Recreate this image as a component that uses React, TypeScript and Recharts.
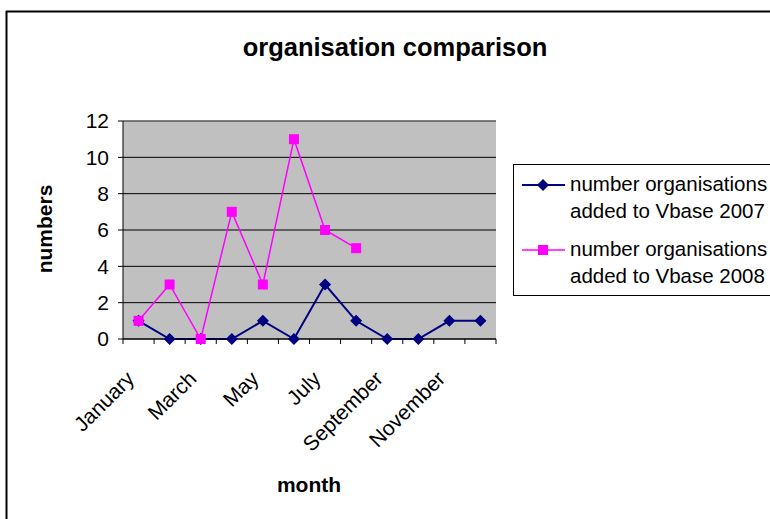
import { LineChart, Line, XAxis, YAxis, CartesianGrid, ReferenceLine } from 'recharts'

const months = ['January', 'February', 'March', 'April', 'May', 'June', 'July', 'August', 'September', 'October', 'November', 'December']
const added2007 = [1, 0, 0, 0, 1, 0, 3, 1, 0, 0, 1, 1]
const added2008 = [1, 3, 0, 7, 3, 11, 6, 5, null, null, null, null]
const yTicks = [0, 2, 4, 6, 8, 10, 12]

const data = months.map((month, i) => ({ month, y2007: added2007[i], y2008: added2008[i] }))

// plot box, Excel style
const PLOT_LEFT = 123
const PLOT_TOP = 121
const PLOT_RIGHT = 496
const PLOT_BOTTOM = 339
const FONT = '"Liberation Sans", Arial, sans-serif'

const NAVY = '#000080'
const PINK = '#FF00FF'

function XTick(props: any) {
  const { x, y, index, payload } = props
  const half = (PLOT_RIGHT - PLOT_LEFT) / months.length / 2
  const lx = x - 3
  const ly = y + 41
  return (
    <g>
      <line x1={x - half} x2={x - half} y1={y} y2={y + 5} stroke="#000" />
      {index === months.length - 1 && <line x1={x + half} x2={x + half} y1={y} y2={y + 5} stroke="#000" />}
      {index % 2 === 0 && (
        <text x={lx} y={ly} transform={`rotate(-45 ${lx} ${ly})`} textAnchor="end" fontSize={21} fill="#000" fontFamily={FONT}>
          {payload.value}
        </text>
      )}
    </g>
  )
}

function Diamond(props: any) {
  const { cx, cy } = props
  if (cx == null || cy == null) return null
  return <polygon points={`${cx},${cy - 6} ${cx + 6},${cy} ${cx},${cy + 6} ${cx - 6},${cy}`} fill={NAVY} />
}

function Square(props: any) {
  const { cx, cy } = props
  if (cx == null || cy == null) return null
  return <rect x={cx - 5} y={cy - 5} width={10} height={10} fill={PINK} />
}

export default function App() {
  return (
    <div style={{ position: 'absolute', left: 0, top: 0, width: 770, height: 519, overflow: 'hidden', background: '#fff', fontFamily: FONT }}>
      <LineChart
        width={770}
        height={519}
        data={data}
        margin={{ top: PLOT_TOP, right: 770 - PLOT_RIGHT, bottom: 519 - PLOT_BOTTOM - 100, left: PLOT_LEFT - 60 }}
      >
        <CartesianGrid fill="#C0C0C0" stroke="#000" vertical={false} />
        <ReferenceLine y={12} stroke="#808080" />
        <XAxis
          dataKey="month"
          scale="band"
          interval={0}
          height={100}
          tickSize={0}
          tickMargin={0}
          axisLine={{ stroke: '#000' }}
          tick={<XTick />}
        />
        <YAxis
          domain={[0, 12]}
          ticks={yTicks}
          width={60}
          tickSize={5}
          tickMargin={9}
          axisLine={{ stroke: '#000' }}
          tickLine={{ stroke: '#000' }}
          tick={{ fontSize: 21, fill: '#000', fontFamily: FONT }}
        />
        <YAxis yAxisId="right" orientation="right" width={0} tick={false} tickLine={false} axisLine={{ stroke: '#808080' }} />
        <Line type="linear" dataKey="y2007" stroke={NAVY} strokeWidth={2} dot={<Diamond />} activeDot={false} isAnimationActive={false} />
        <Line type="linear" dataKey="y2008" stroke={PINK} strokeWidth={1.5} dot={<Square />} activeDot={false} isAnimationActive={false} />
      </LineChart>
      <svg width={770} height={519} style={{ position: 'absolute', left: 0, top: 0, pointerEvents: 'none' }} fontFamily={FONT}>
        <line x1={6.5} x2={6.5} y1={11} y2={519} stroke="#000" strokeWidth={2} />
        <line x1={6} x2={770} y1={11.5} y2={11.5} stroke="#000" strokeWidth={2} />
        <text x={395} y={56} textAnchor="middle" fontSize={25.5} fontWeight="bold" fill="#000">organisation comparison</text>
        <text x={52} y={229} transform="rotate(-90 52 229)" textAnchor="middle" fontSize={21} fontWeight="bold" fill="#000">numbers</text>
        <text x={309} y={492} textAnchor="middle" fontSize={21} fontWeight="bold" fill="#000">month</text>
        <rect x={513.5} y={164.5} width={400} height={131} fill="#fff" stroke="#000" />
        <line x1={522} x2={565} y1={185} y2={185} stroke={NAVY} strokeWidth={2} />
        <polygon points="543,179 549,185 543,191 537,185" fill={NAVY} />
        <text x={570} y={191} fontSize={20.5} fill="#000">number organisations</text>
        <text x={570} y={218} fontSize={20.5} fill="#000">added to Vbase 2007</text>
        <line x1={522} x2={565} y1={250} y2={250} stroke={PINK} strokeWidth={1.5} />
        <rect x={538} y={245} width={10} height={10} fill={PINK} />
        <text x={570} y={256} fontSize={20.5} fill="#000">number organisations</text>
        <text x={570} y={283} fontSize={20.5} fill="#000">added to Vbase 2008</text>
      </svg>
    </div>
  )
}
